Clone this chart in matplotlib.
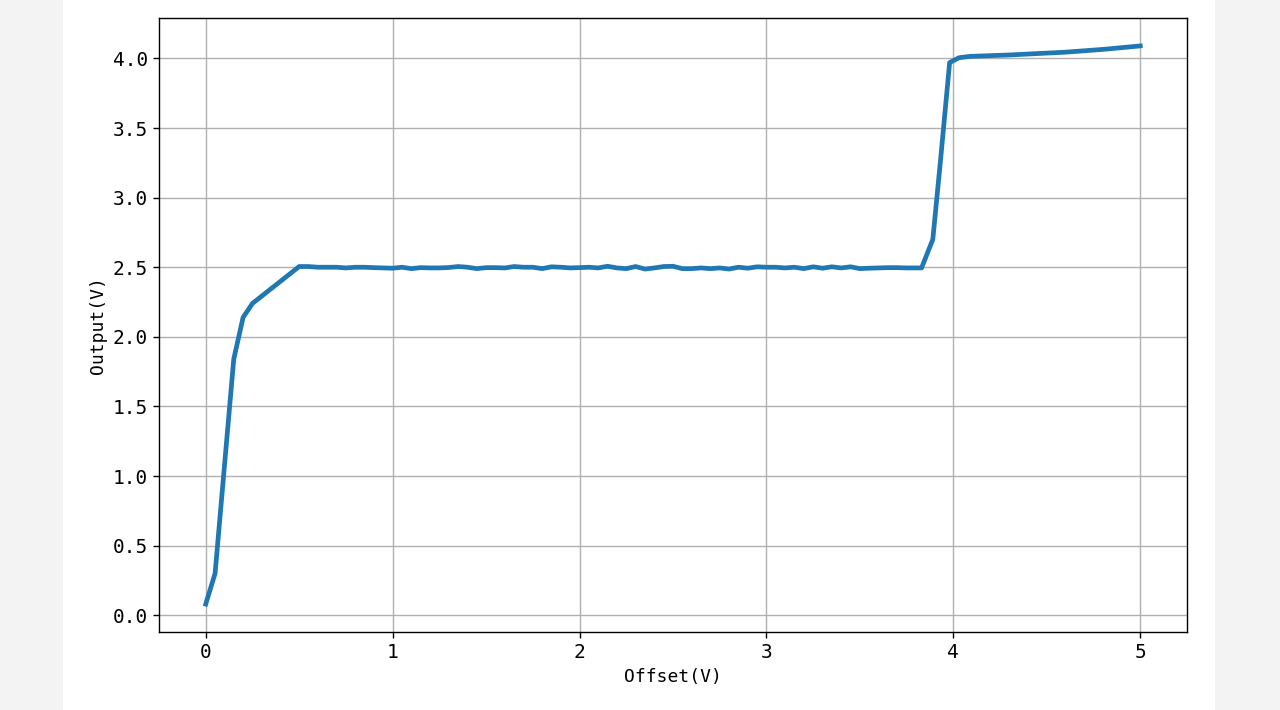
import matplotlib
matplotlib.use("Agg")
from matplotlib import pyplot as plt
from matplotlib.patches import Rectangle

# Offset sweep (V) and measured output (V)
offset = [
    0.0, 0.05, 0.15, 0.2, 0.25,
    0.5, 0.55, 0.6, 0.65, 0.7, 0.75, 0.8, 0.85, 0.9, 0.95,
    1.0, 1.05, 1.1, 1.15, 1.2, 1.25, 1.3, 1.35, 1.4, 1.45,
    1.5, 1.55, 1.6, 1.65, 1.7, 1.75, 1.8, 1.85, 1.9, 1.95,
    2.0, 2.05, 2.1, 2.15, 2.2, 2.25, 2.3, 2.35, 2.4, 2.45,
    2.5, 2.55, 2.6, 2.65, 2.7, 2.75, 2.8, 2.85, 2.9, 2.95,
    3.0, 3.05, 3.1, 3.15, 3.2, 3.25, 3.3, 3.35, 3.4, 3.45,
    3.5, 3.55, 3.6, 3.65, 3.7, 3.75, 3.8, 3.83,
    3.89, 3.93, 3.98, 4.03, 4.09, 4.3, 4.6, 4.8, 5.0,
]
output = [
    0.08, 0.30, 1.84, 2.14, 2.24,
    2.505, 2.505, 2.50, 2.50, 2.50, 2.495, 2.50, 2.50, 2.497, 2.495,
    2.493, 2.50, 2.49, 2.497, 2.495, 2.495, 2.498, 2.505, 2.50, 2.49,
    2.497, 2.497, 2.495, 2.505, 2.50, 2.50, 2.49, 2.503, 2.50, 2.495,
    2.497, 2.50, 2.495, 2.507, 2.495, 2.49, 2.505, 2.487, 2.495, 2.505,
    2.507, 2.49, 2.49, 2.495, 2.49, 2.495, 2.487, 2.50, 2.493, 2.503,
    2.50, 2.50, 2.495, 2.50, 2.49, 2.503, 2.493, 2.503, 2.495, 2.503,
    2.49, 2.493, 2.495, 2.497, 2.497, 2.495, 2.495, 2.495,
    2.70, 3.25, 3.97, 4.005, 4.015, 4.025, 4.045, 4.065, 4.09,
]

plt.rcParams.update(
    {
        "font.family": ["DejaVu Sans Mono"],
        "font.size": 13,
        "xtick.labelsize": 14,
        "ytick.labelsize": 14,
        "xtick.major.size": 4.5,
        "ytick.major.size": 4.5,
        "xtick.major.width": 1.0,
        "ytick.major.width": 1.0,
        "axes.linewidth": 1.0,
    }
)

fig = plt.figure(figsize=(12.8, 7.1), dpi=100)
fig.patch.set_facecolor("#f3f3f3")
# white page area of the screenshot, behind the axes
fig.patches.append(
    Rectangle((63 / 1280, 0), (1215 - 63) / 1280, 1, transform=fig.transFigure,
              facecolor="white", edgecolor="none", zorder=-10)
)

ax = fig.add_axes([159 / 1280, 78 / 710, 1028 / 1280, 614 / 710])
ax.set_zorder(1)
ax.plot(offset, output, color="#1f77b4", linewidth=3.4)
ax.grid(True, color="#b0b0b0", linewidth=1.0)
ax.set_xlabel("Offset(V)", fontsize=13)
ax.set_ylabel("Output(V)", fontsize=13)
ax.set_xticks([0, 1, 2, 3, 4, 5])
ax.set_yticks([0.0, 0.5, 1.0, 1.5, 2.0, 2.5, 3.0, 3.5, 4.0])

fig.savefig("out.png", dpi=100, facecolor=fig.get_facecolor())
